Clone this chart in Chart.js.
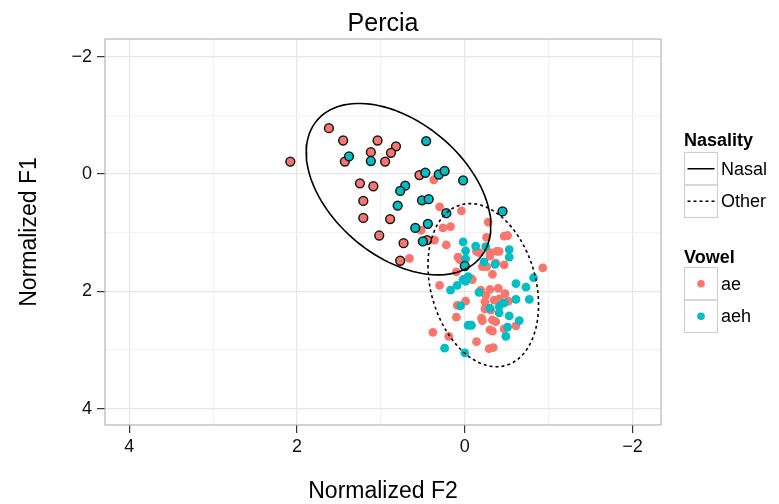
<!DOCTYPE html>
<html>
<head>
<meta charset="utf-8">
<script src="https://cdn.jsdelivr.net/npm/chart.js@4.4.1/dist/chart.umd.min.js"></script>
<style>
  html, body { margin: 0; padding: 0; background: #fff; }
  #wrap { width: 779px; height: 504px; position: relative; }
</style>
</head>
<body>
<div id="wrap"><canvas id="chart"></canvas></div>
<script>
// F2 on x, F1 on y, both axes reversed (vowel-space style)
const aeNasalF2 = [2.08, 1.62, 1.45, 1.04, 0.82, 0.88, 1.12, 1.43, 0.95, 1.25, 1.09, 1.21, 0.54, 1.21, 0.89, 1.02, 0.73, 0.45, 0.77]
const aeNasalF1 = [-0.21, -0.78, -0.57, -0.57, -0.47, -0.36, -0.37, -0.21, -0.21, 0.16, 0.21, 0.46, 0.02, 0.75, 0.77, 1.05, 1.18, 1.13, 1.48]

const aehNasalF2 = [0.46, 1.38, 1.12, 0.71, 0.77, 0.47, 0.31, 0.24, 0.02, 0.51, 0.43, 0.80, 0.22, -0.45, 0.44, 0.59, 0.50, 0.0]
const aehNasalF1 = [-0.56, -0.30, -0.22, 0.20, 0.29, -0.02, 0.01, -0.05, 0.11, 0.45, 0.43, 0.54, 0.67, 0.64, 0.85, 0.92, 1.15, 1.57]

const aeOtherF2 = [0.37, 0.30, 0.04, -0.28, 0.52, 0.26, 0.17, 0.36, 0.22, -0.26, -0.47, -0.51, 0.66, 0.08, 0.06,
  -0.14, -0.17, -0.30, -0.38, -0.41, -0.30, -0.37, -0.21, -0.26, -0.47, 0.10, -0.09, -0.07, -0.33, -0.93,
  0.30, -0.19, -0.30, -0.40, -0.48, -0.25, -0.01, 0.09, -0.24, -0.35, -0.41, -0.52, -0.31, -0.24, 0.10,
  -0.20, -0.21, -0.33, -0.37, -0.61, -0.47, -0.30, -0.33, 0.38, 0.19, -0.14, -0.29, -0.34]
const aeOtherF1 = [0.10, 0.56, 0.63, 0.82, 0.96, 0.92, 0.90, 1.13, 1.21, 1.08, 1.06, 1.05, 1.44, 1.42, 1.46,
  1.32, 1.34, 1.34, 1.32, 1.32, 1.40, 1.52, 1.58, 1.58, 1.55, 1.67, 1.80, 1.78, 1.71, 1.60,
  1.90, 1.98, 1.97, 1.95, 2.04, 2.07, 2.17, 2.24, 2.18, 2.15, 2.13, 2.17, 2.32, 2.30, 2.44,
  2.46, 2.50, 2.49, 2.52, 2.59, 2.64, 2.66, 2.68, 2.70, 2.77, 2.86, 2.98, 2.96]

const aehOtherF2 = [0.02, -0.01, -0.01, -0.13, -0.25, -0.53, -0.53, -0.23, -0.36, -0.04, -0.01, 0.02, 0.09, 0.17,
  -0.17, -0.61, -0.73, -0.82, -0.61, -0.77, 0.05, -0.30, -0.41, -0.47, -0.41, -0.53, -0.65, -0.04, -0.08,
  -0.51, -0.49, 0.24, 0.0]
const aehOtherF1 = [1.16, 1.31, 1.45, 1.23, 1.24, 1.29, 1.42, 1.50, 1.54, 1.75, 1.83, 1.80, 1.90, 1.98,
  2.02, 1.87, 1.93, 1.77, 2.14, 2.14, 2.25, 2.29, 2.26, 2.20, 2.37, 2.42, 2.50, 2.58, 2.58,
  2.61, 2.77, 2.97, 3.05]

const gridValues = [-2, -1, 0, 1, 2, 3, 4]
const tickValues = [-2, 0, 2, 4]
const nasalityLabels = ["Nasal", "Other"]
const vowelLabels = ["ae", "aeh"]
const ELLIPSE_LEVEL = 0.95

const RED = "#F8766D"
const TEAL = "#00BFC4"
const FONT = "'Liberation Sans', Arial, sans-serif"

function toPoints(xs, ys) {
  return xs.map((x, i) => ({ x: x, y: ys[i] }))
}

// robust t-covariance (as MASS::cov.trob, nu = 5), 2-d only
function covTrob(xs, ys) {
  const n = xs.length
  const nu = 5, p = 2
  let w = xs.map(() => 1)
  let lx = xs.reduce((a, b) => a + b, 0) / n
  let ly = ys.reduce((a, b) => a + b, 0) / n
  let dx = [], dy = []
  for (let iter = 0; iter < 25; iter++) {
    const w0 = w
    dx = xs.map((v) => v - lx)
    dy = ys.map((v) => v - ly)
    const sw = w.reduce((a, b) => a + b, 0)
    let sxx = 0, syy = 0, sxy = 0
    for (let i = 0; i < n; i++) {
      sxx += w[i] * dx[i] * dx[i]
      syy += w[i] * dy[i] * dy[i]
      sxy += w[i] * dx[i] * dy[i]
    }
    sxx /= sw; syy /= sw; sxy /= sw
    const det = sxx * syy - sxy * sxy
    w = dx.map((_, i) => {
      const q = (syy * dx[i] * dx[i] - 2 * sxy * dx[i] * dy[i] + sxx * dy[i] * dy[i]) / det
      return (nu + p) / (nu + q)
    })
    const sw2 = w.reduce((a, b) => a + b, 0)
    lx = xs.reduce((a, v, i) => a + w[i] * v, 0) / sw2
    ly = ys.reduce((a, v, i) => a + w[i] * v, 0) / sw2
    if (w.every((v, i) => Math.abs(v - w0[i]) < 0.01)) break
  }
  let cxx = 0, cyy = 0, cxy = 0
  for (let i = 0; i < n; i++) {
    cxx += w[i] * dx[i] * dx[i]
    cyy += w[i] * dy[i] * dy[i]
    cxy += w[i] * dx[i] * dy[i]
  }
  return { cx: lx, cy: ly, sxx: cxx / n, syy: cyy / n, sxy: cxy / n, n: n }
}

// same construction as ggplot's stat_ellipse (type "t")
function ellipsePath(xs, ys, level, segments) {
  const v = covTrob(xs, ys)
  const d2 = v.n - 1
  const q = (d2 / 2) * (Math.pow(1 - level, -2 / d2) - 1) // qf(level, 2, n-1)
  const r = Math.sqrt(2 * q)
  const a = Math.sqrt(v.sxx), b = v.sxy / a, c = Math.sqrt(v.syy - b * b)
  const pts = []
  for (let k = 0; k <= segments; k++) {
    const t = (2 * Math.PI * k) / segments
    pts.push({ x: v.cx + r * a * Math.cos(t), y: v.cy + r * (b * Math.cos(t) + c * Math.sin(t)) })
  }
  return pts
}

function minus(v) {
  return String(v).replace("-", "\u2212")
}

const nasalEllipse = ellipsePath(aeNasalF2.concat(aehNasalF2), aeNasalF1.concat(aehNasalF1), ELLIPSE_LEVEL, 120)
const otherEllipse = ellipsePath(aeOtherF2.concat(aehOtherF2), aeOtherF1.concat(aehOtherF1), ELLIPSE_LEVEL, 120)

const panelAndLegend = {
  id: "panelAndLegend",
  afterDatasetsDraw(chart) {
    const { ctx, chartArea } = chart
    ctx.save()
    ctx.strokeStyle = "#B5B5B5"
    ctx.lineWidth = 1.2
    ctx.strokeRect(chartArea.left, chartArea.top, chartArea.right - chartArea.left, chartArea.bottom - chartArea.top)
    ctx.restore()
  },
  afterDraw(chart) {
    const ctx = chart.ctx
    const x0 = 684.5
    const keyW = 33
    const keyH = 32.5
    ctx.save()
    ctx.fillStyle = "#000"
    ctx.textAlign = "left"

    ctx.font = "bold 18px " + FONT
    ctx.textBaseline = "alphabetic"
    ctx.fillText("Nasality", 684, 146)
    nasalityLabels.forEach((lab, i) => {
      const top = 152.5 + i * keyH
      ctx.strokeStyle = "#CFCFCF"
      ctx.lineWidth = 1.2
      ctx.strokeRect(x0, top, keyW, keyH)
      ctx.strokeStyle = "#000"
      ctx.lineWidth = 1.5
      ctx.setLineDash(i === 0 ? [] : [3, 3])
      ctx.beginPath()
      ctx.moveTo(x0 + 3, top + keyH / 2)
      ctx.lineTo(x0 + keyW - 3, top + keyH / 2)
      ctx.stroke()
      ctx.setLineDash([])
      ctx.font = "18px " + FONT
      ctx.textBaseline = "middle"
      ctx.fillStyle = "#000"
      ctx.fillText(lab, 721, top + keyH / 2 + 1)
    })

    ctx.font = "bold 18px " + FONT
    ctx.textBaseline = "alphabetic"
    ctx.fillText("Vowel", 684, 262.5)
    vowelLabels.forEach((lab, i) => {
      const top = 267.5 + i * keyH
      ctx.strokeStyle = "#CFCFCF"
      ctx.lineWidth = 1.2
      ctx.strokeRect(x0, top, keyW, keyH)
      ctx.fillStyle = i === 0 ? RED : TEAL
      ctx.beginPath()
      ctx.arc(x0 + keyW / 2, top + keyH / 2, 3.8, 0, Math.PI * 2)
      ctx.fill()
      ctx.font = "18px " + FONT
      ctx.textBaseline = "middle"
      ctx.fillStyle = "#000"
      ctx.fillText(lab, 721, top + keyH / 2 + 1)
    })
    ctx.restore()
  },
}

function gridColor(ctx) {
  return tickValues.includes(ctx.tick.value) ? "#E6E6E6" : "#F3F3F3"
}
function tickMarkColor(ctx) {
  return tickValues.includes(ctx.tick.value) ? "#333333" : "rgba(0,0,0,0)"
}
function setTicks(scale) {
  scale.ticks = gridValues.map((v) => ({ value: v }))
}
function tickLabel(v) {
  return tickValues.includes(v) ? minus(v) : ""
}

new Chart(document.getElementById("chart"), {
  type: "scatter",
  data: {
    datasets: [
      {
        label: "Nasal ellipse",
        data: nasalEllipse,
        showLine: true,
        pointRadius: 0,
        borderColor: "#000",
        borderWidth: 1.6,
        fill: false,
        tension: 0,
      },
      {
        label: "Other ellipse",
        data: otherEllipse,
        showLine: true,
        pointRadius: 0,
        borderColor: "#000",
        borderWidth: 1.6,
        borderDash: [3, 3],
        fill: false,
        tension: 0,
      },
      {
        label: "aeh Nasal",
        data: toPoints(aehNasalF2, aehNasalF1),
        pointRadius: 4.4,
        pointBackgroundColor: TEAL,
        pointBorderColor: "#1a1a1a",
        pointBorderWidth: 1.5,
      },
      {
        label: "ae Nasal",
        data: toPoints(aeNasalF2, aeNasalF1),
        pointRadius: 4.4,
        pointBackgroundColor: RED,
        pointBorderColor: "#1a1a1a",
        pointBorderWidth: 1.5,
      },
      {
        label: "aeh Other",
        data: toPoints(aehOtherF2, aehOtherF1),
        pointRadius: 4.4,
        pointBackgroundColor: TEAL,
        pointBorderWidth: 0,
      },
      {
        label: "ae Other",
        data: toPoints(aeOtherF2, aeOtherF1),
        pointRadius: 4.4,
        pointBackgroundColor: RED,
        pointBorderWidth: 0,
      },
    ],
  },
  options: {
    responsive: true,
    maintainAspectRatio: false,
    animation: false,
    layout: { padding: { left: 0, right: 118, top: 0, bottom: 0 } },
    plugins: {
      legend: { display: false },
      tooltip: { enabled: false },
      title: {
        display: true,
        text: "Percia",
        fullSize: false,
        color: "#000",
        font: { family: FONT, size: 25, weight: "normal", lineHeight: 1.2 },
        padding: { top: 9, bottom: 0 },
      },
    },
    scales: {
      x: {
        type: "linear",
        position: "bottom",
        reverse: true,
        min: -2.34,
        max: 4.29,
        afterBuildTicks: setTicks,
        afterFit: (s) => { s.height = 79 },
        border: { display: false },
        grid: { color: gridColor, tickColor: tickMarkColor, drawTicks: true, tickLength: 8, lineWidth: 1.2 },
        ticks: {
          autoSkip: false,
          maxRotation: 0,
          padding: 3,
          color: "#111",
          font: { family: FONT, size: 18 },
          callback: tickLabel,
        },
        title: {
          display: true,
          text: "Normalized F2",
          color: "#000",
          font: { family: FONT, size: 23, lineHeight: 1 },
          padding: { top: 0, bottom: 1 },
        },
      },
      y: {
        type: "linear",
        position: "left",
        reverse: true,
        min: -2.30,
        max: 4.28,
        afterBuildTicks: setTicks,
        afterFit: (s) => { s.width = 105 },
        border: { display: false },
        grid: { color: gridColor, tickColor: tickMarkColor, drawTicks: true, tickLength: 8, lineWidth: 1.2 },
        ticks: {
          autoSkip: false,
          padding: 5,
          color: "#111",
          font: { family: FONT, size: 18 },
          callback: tickLabel,
        },
        title: {
          display: true,
          text: "Normalized F1",
          color: "#000",
          font: { family: FONT, size: 23, lineHeight: 1 },
          padding: { top: 18, bottom: 0 },
        },
      },
    },
  },
  plugins: [panelAndLegend],
})
</script>
</body>
</html>
